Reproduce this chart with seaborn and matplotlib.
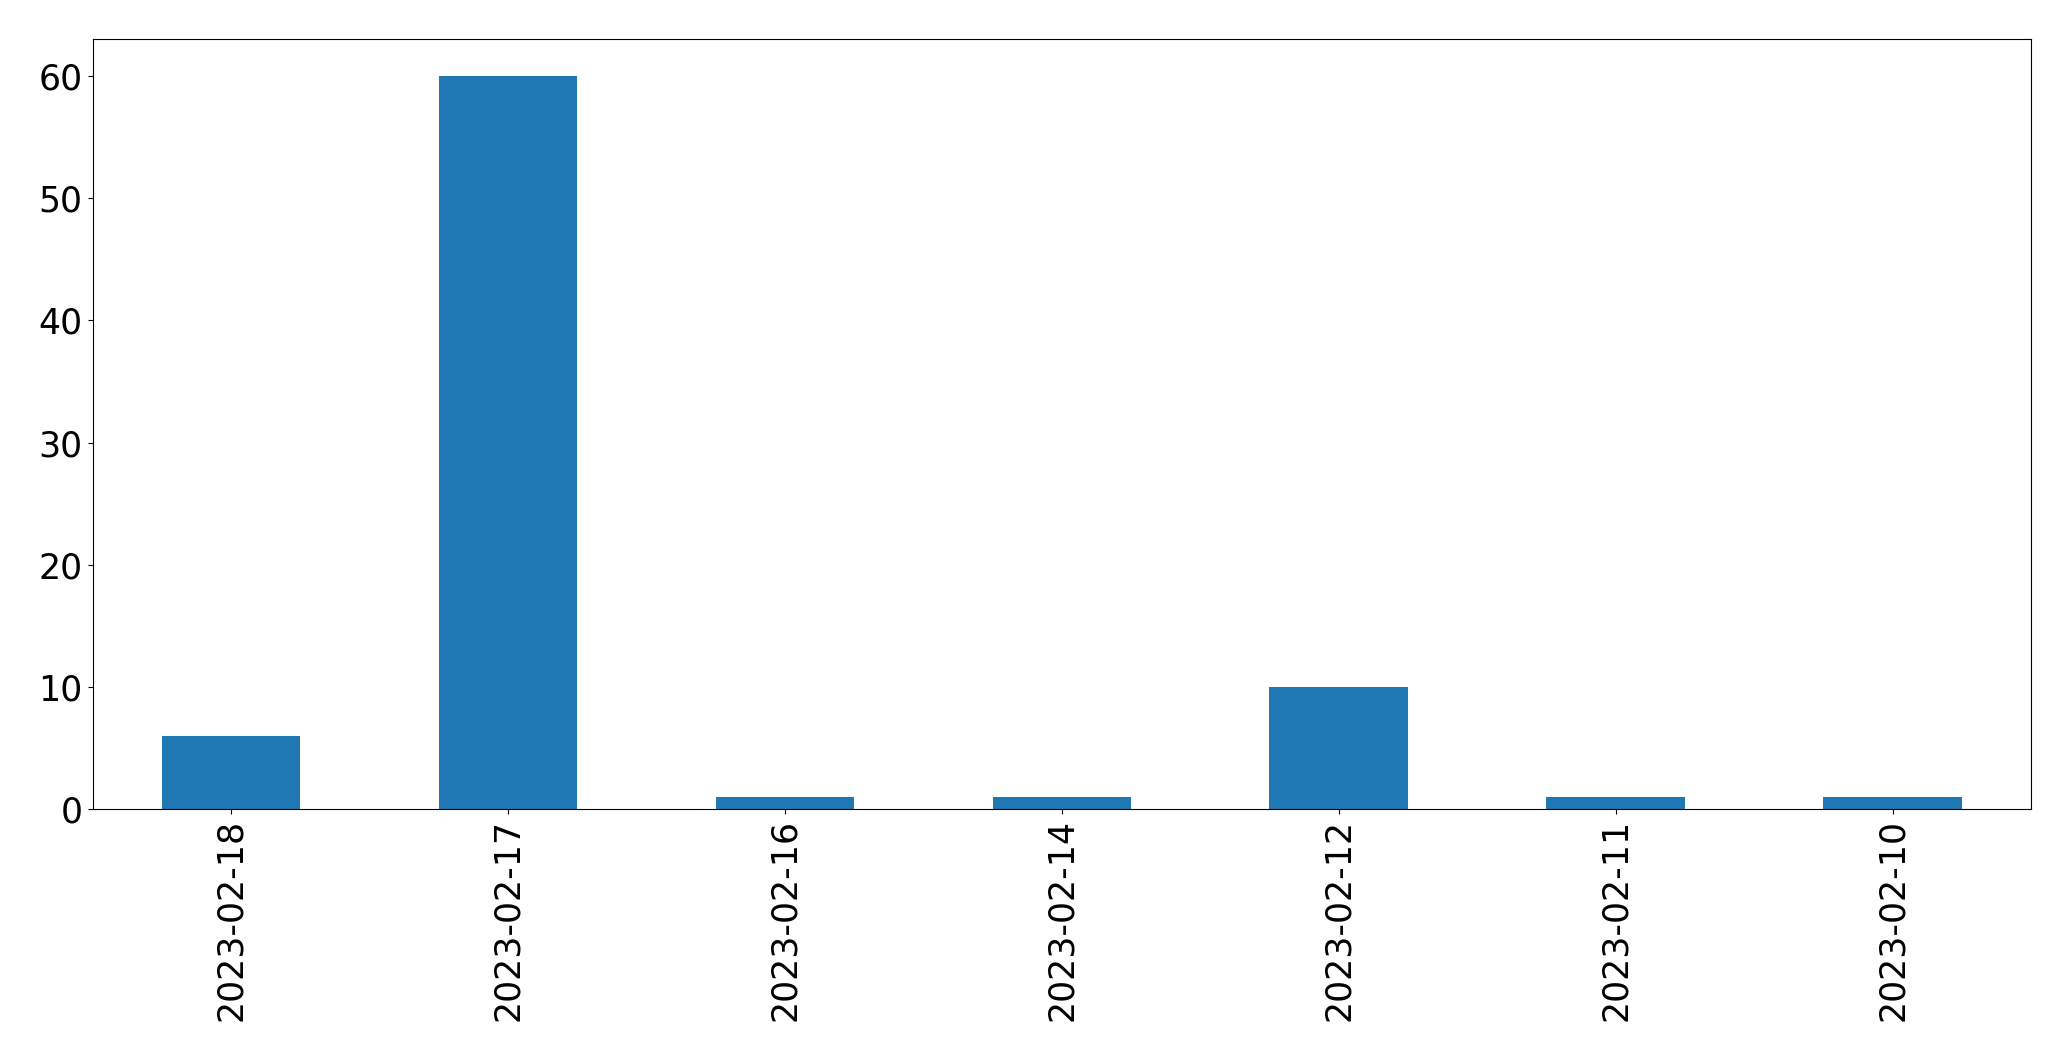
import matplotlib
matplotlib.use("Agg")
import matplotlib.pyplot as plt
import seaborn as sns
import pandas as pd

dates = ["2023-02-18", "2023-02-17", "2023-02-16", "2023-02-14",
         "2023-02-12", "2023-02-11", "2023-02-10"]
counts = [6, 60, 1, 1, 10, 1, 1]

df = pd.DataFrame({"date": dates, "count": counts})

fig = plt.figure(figsize=(20.71, 10.61), dpi=100)
ax = fig.add_axes([92.5 / 2071, 1 - 809.3 / 1061, (2031 - 92.5) / 2071, (809.3 - 39.3) / 1061])
sns.barplot(data=df, x="date", y="count", order=dates, color="#1f77b4",
            saturation=1, width=0.5, linewidth=0, ax=ax)
ax.set_xlim(-0.5, len(dates) - 0.5)
ax.set_ylim(0, max(counts) * 1.05)
ax.set_xlabel("")
ax.set_ylabel("")
ax.tick_params(axis="both", labelsize=25)
ax.tick_params(axis="x", labelrotation=90)
fig.savefig("out.png", dpi=100)
